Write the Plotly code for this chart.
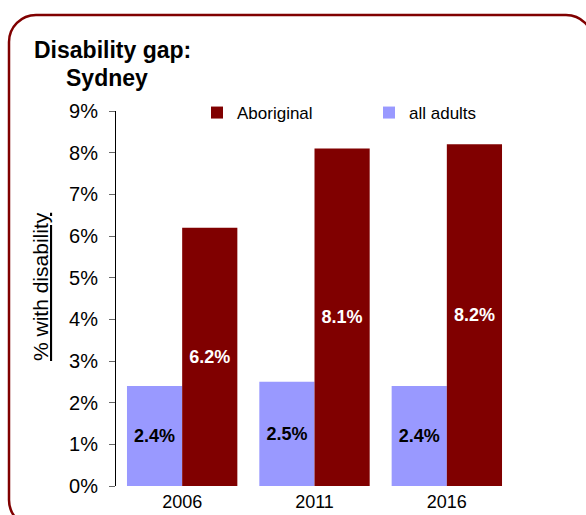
import plotly.graph_objects as go

W, H = 586, 515

years = ["2006", "2011", "2016"]
all_adults = [2.4, 2.5, 2.4]
aboriginal = [6.2, 8.1, 8.2]
y_ticks = [0, 1, 2, 3, 4, 5, 6, 7, 8, 9]
y_tick_text = [f"{v}%" for v in y_ticks]

LIGHT = "#9999FF"
DARK = "#800000"
FONT = "Liberation Sans, Arial, sans-serif"


def px(x):
    return x / W


def py(y):
    return 1 - y / H


fig = go.Figure()
fig.add_trace(go.Bar(
    x=years, y=all_adults, name="all adults",
    marker=dict(color=LIGHT, line=dict(width=0)),
    text=[f"<b>{v:.1f}%</b>" for v in all_adults],
    textposition="inside", insidetextanchor="middle",
    textfont=dict(color="black", size=18, family=FONT),
    legend="legend2", showlegend=True,
))
fig.add_trace(go.Bar(
    x=years, y=aboriginal, name="Aboriginal",
    marker=dict(color=DARK, line=dict(width=0)),
    text=[f"<b>{v:.1f}%</b>" for v in aboriginal],
    textposition="inside", insidetextanchor="middle",
    textfont=dict(color="white", size=18, family=FONT),
    legend="legend", showlegend=True,
))

# rounded frame (pixel coordinates converted to paper)
x0, x1, y0, y1, r = 9, 593, 15, 527, 27
k = 0.5523 * r
path = (
    f"M {px(x0 + r)},{py(y0)} L {px(x1 - r)},{py(y0)} "
    f"C {px(x1 - r + k)},{py(y0)} {px(x1)},{py(y0 + r - k)} {px(x1)},{py(y0 + r)} "
    f"L {px(x1)},{py(y1 - r)} "
    f"C {px(x1)},{py(y1 - r + k)} {px(x1 - r + k)},{py(y1)} {px(x1 - r)},{py(y1)} "
    f"L {px(x0 + r)},{py(y1)} "
    f"C {px(x0 + r - k)},{py(y1)} {px(x0)},{py(y1 - r + k)} {px(x0)},{py(y1 - r)} "
    f"L {px(x0)},{py(y0 + r)} "
    f"C {px(x0)},{py(y0 + r - k)} {px(x0 + r - k)},{py(y0)} {px(x0 + r)},{py(y0)} Z"
)

fig.update_layout(
    width=W, height=H, autosize=False,
    margin=dict(l=0, r=0, t=0, b=0, pad=0, autoexpand=False),
    paper_bgcolor="white", plot_bgcolor="white",
    font=dict(family=FONT, color="black", size=20),
    showlegend=True,
    barmode="group", bargap=0.166, bargroupgap=0,
    xaxis=dict(domain=[px(116), px(513)], showline=False, ticks="",
               showgrid=False, tickfont=dict(size=18), fixedrange=True,
               ticklabelstandoff=3, automargin=False),
    yaxis=dict(domain=[py(486), py(111)], range=[0, 9],
               tickvals=y_ticks, ticktext=y_tick_text,
               showline=True, linecolor="black", linewidth=1,
               ticks="outside", ticklen=6, tickcolor="#666666",
               showgrid=False, zeroline=False, tickfont=dict(size=20),
               ticklabelstandoff=7, automargin=False, fixedrange=True),
    legend=dict(x=px(197), y=py(113), xanchor="left", yanchor="middle",
                orientation="h", font=dict(size=17), bgcolor="rgba(0,0,0,0)"),
    legend2=dict(x=px(369), y=py(113), xanchor="left", yanchor="middle",
                 orientation="h", font=dict(size=17), bgcolor="rgba(0,0,0,0)"),
    shapes=[dict(type="path", xref="paper", yref="paper", path=path,
                 line=dict(color=DARK, width=2.5), fillcolor="rgba(0,0,0,0)",
                 layer="above")],
    annotations=[
        dict(text="<b>Disability gap:</b>", x=px(112.5), y=py(35),
             xref="paper", yref="paper", xanchor="center", yanchor="top",
             showarrow=False, font=dict(size=23)),
        dict(text="<b>Sydney</b>", x=px(107), y=py(63),
             xref="paper", yref="paper", xanchor="center", yanchor="top",
             showarrow=False, font=dict(size=23)),
        dict(text="<u>% with disability</u>", x=px(40), y=py(287),
             xref="paper", yref="paper", xanchor="center", yanchor="middle",
             showarrow=False, textangle=-90, font=dict(size=21)),
    ],
)

fig.write_html(
    "out.html",
    config={"displayModeBar": False},
    post_script="document.documentElement.style.margin='0';"
                "document.body.style.margin='0';"
                "document.body.style.overflow='hidden';",
)
